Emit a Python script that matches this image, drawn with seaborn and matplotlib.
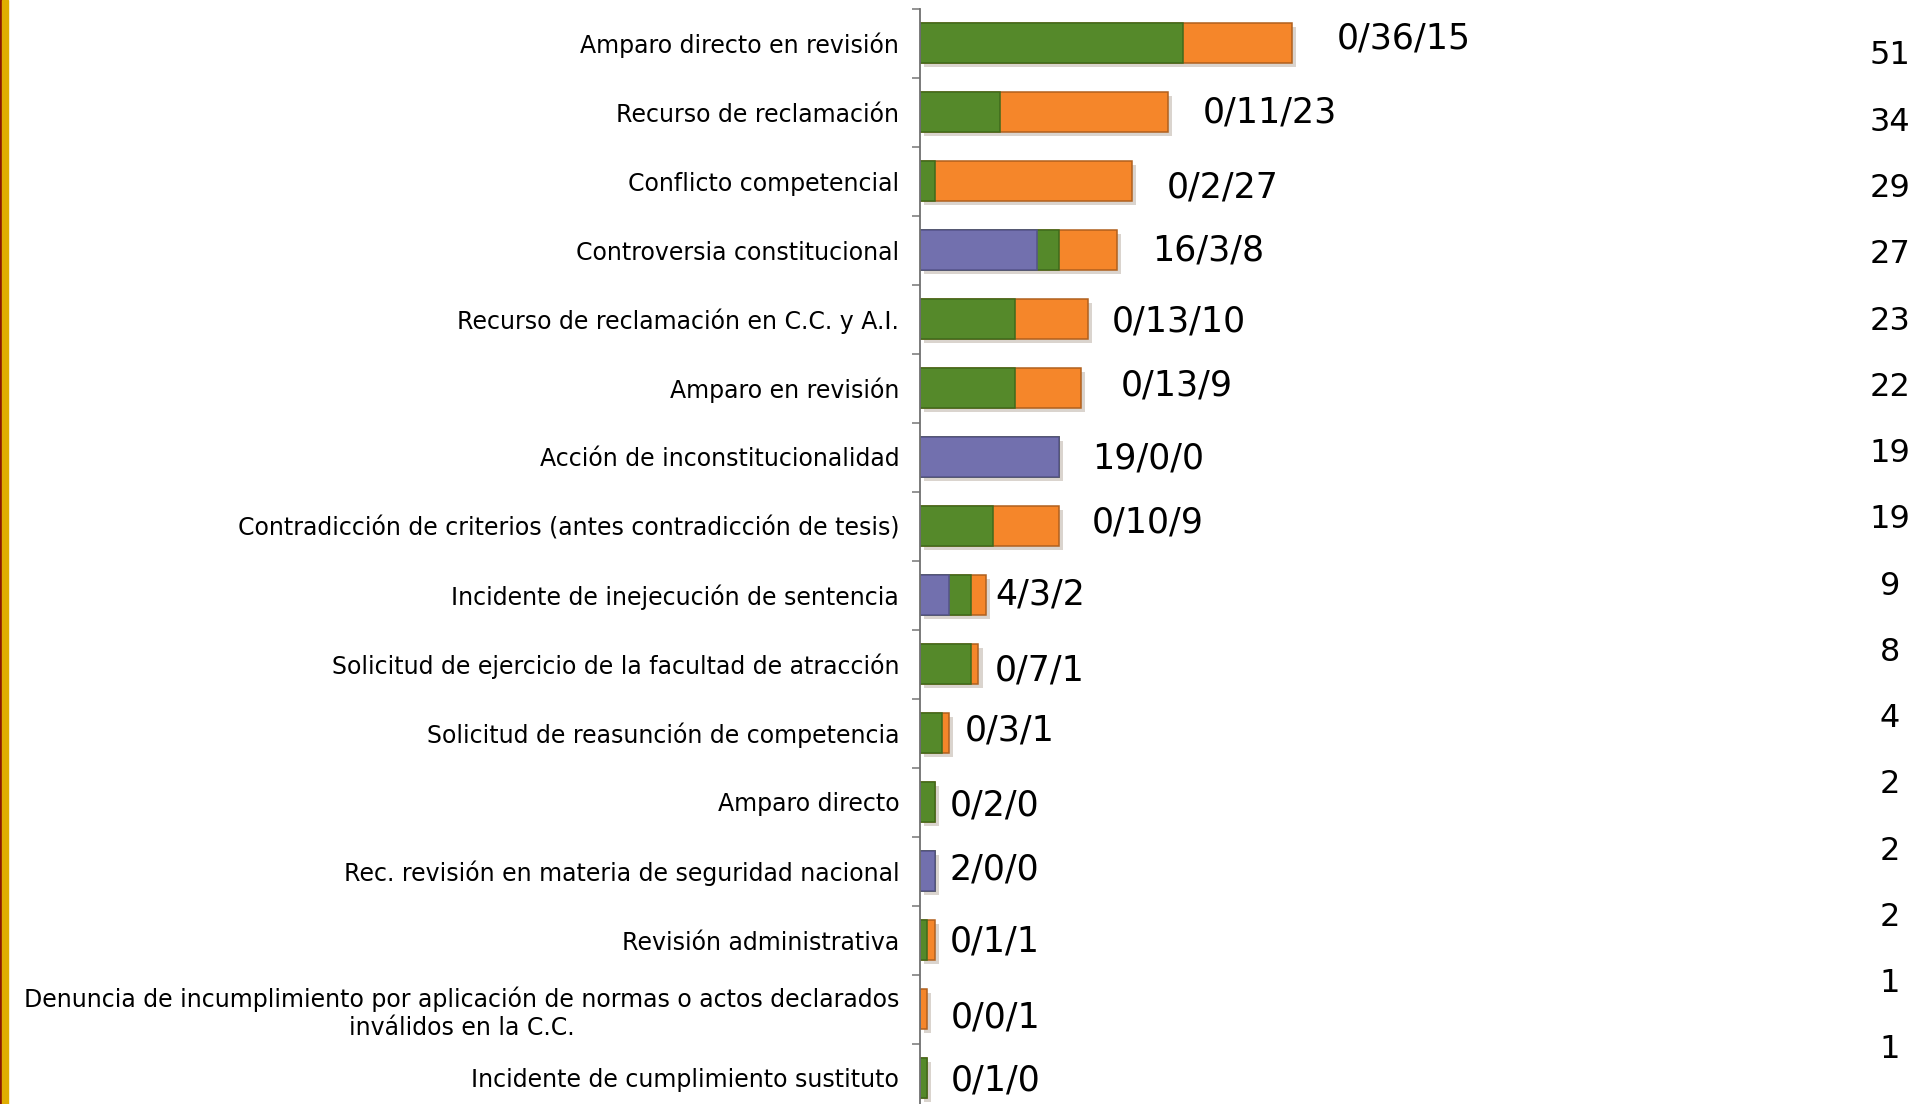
import numpy as np
import pandas as pd
import matplotlib
matplotlib.use("Agg")
import matplotlib.pyplot as plt
import matplotlib.patheffects as pe
from matplotlib.patches import Rectangle
import seaborn as sns

# Asuntos por tipo (purple / green / orange)
categories = [
    "Amparo directo en revisión",
    "Recurso de reclamación",
    "Conflicto competencial",
    "Controversia constitucional",
    "Recurso de reclamación en C.C. y A.I.",
    "Amparo en revisión",
    "Acción de inconstitucionalidad",
    "Contradicción de criterios (antes contradicción de tesis)",
    "Incidente de inejecución de sentencia",
    "Solicitud de ejercicio de la facultad de atracción",
    "Solicitud de reasunción de competencia",
    "Amparo directo",
    "Rec. revisión en materia de seguridad nacional",
    "Revisión administrativa",
    "Denuncia de incumplimiento por aplicación de normas o actos declarados\ninválidos en la C.C.",
    "Incidente de cumplimiento sustituto",
]
purple = [0, 0, 0, 16, 0, 0, 19, 0, 4, 0, 0, 0, 2, 0, 0, 0]
green = [36, 11, 2, 3, 13, 13, 0, 10, 3, 7, 3, 2, 0, 1, 0, 1]
orange = [15, 23, 27, 8, 10, 9, 0, 9, 2, 1, 1, 0, 0, 1, 1, 0]

# label nudges (points), layout only
label_dx = [32, 25, 25, 25, 17, 29, 24, 24, 7, 12, 11, 11, 11, 11, 17, 17]
label_dy = [3.5, 0, -4.4, 0, -1.8, 1.8, -0.9, 2.6, 0, -4.4, 1.8, -2.6, 0.9, -0.9, -6.1, -1.8]

c_purple = "#7270AE"
c_green = "#55892A"
c_orange = "#F5862A"

df = pd.DataFrame({"cat": categories, "p": purple, "g": green, "o": orange})
df["pg"] = df["p"] + df["g"]
df["tot"] = df["pg"] + df["o"]
n = len(df)

sns.set_style("white")
plt.rcParams["font.family"] = ["DejaVu Sans"]
plt.rcParams["text.color"] = "black"

W, H = 1913, 1104
fig = plt.figure(figsize=(W / 100, H / 100), dpi=100)
ax = fig.add_axes([920 / W, -8.5 / H, 880 / W, 1.0])

layers = [("tot", c_orange, "#B0601E"), ("pg", c_green, "#3E6A1C"), ("p", c_purple, "#55538A")]
for k, (col, fc, ec) in enumerate(layers):
    before = len(ax.patches)
    sns.barplot(data=df, x=col, y="cat", orient="y", order=categories,
                color=fc, saturation=1, width=0.58, edgecolor=ec,
                linewidth=1.1, ax=ax)
    if k == 0:
        for p in ax.patches[before:]:
            p.set_path_effects([pe.SimplePatchShadow(offset=(3, -3), alpha=0.2),
                                pe.Normal()])

ax.set_xlim(0, 880 / 7.3)
ax.set_ylim(n - 0.5, -0.5)
ax.set_xlabel("")
ax.set_ylabel("")
ax.set_xticks([])

ax.set_yticks(range(n))
ax.set_yticklabels(categories, fontsize=17, multialignment="center", color="black")
ax.set_yticks(np.arange(-0.5, n, 1), minor=True)
ax.tick_params(axis="y", which="major", length=0, pad=15, labelcolor="black")
ax.tick_params(axis="y", which="minor", length=6, width=1.2, color="#808080", direction="out", left=True)

for s in ["top", "right", "bottom"]:
    ax.spines[s].set_visible(False)
ax.spines["left"].set_color("#707070")
ax.spines["left"].set_linewidth(1.3)

for i, r in df.iterrows():
    ax.annotate(f"{r.p}/{r.g}/{r.o}", xy=(r.tot, i), xytext=(label_dx[i], label_dy[i]),
                textcoords="offset points", ha="left", va="center", fontsize=25, color="black")

# totals column
ys = np.linspace(56, 1050, n)
for t, y in zip(df["tot"], ys):
    fig.text(1890 / W, 1 - y / H, str(t), ha="center", va="center", fontsize=23, color="black")

# left border stripe
fig.patches.append(Rectangle((0, 0), 1.5 / W, 1, transform=fig.transFigure, color="#8B1A00", zorder=5))
fig.patches.append(Rectangle((1.5 / W, 0), 6 / W, 1, transform=fig.transFigure, color="#E0AE00", zorder=5))

fig.savefig("out.png", dpi=100)
